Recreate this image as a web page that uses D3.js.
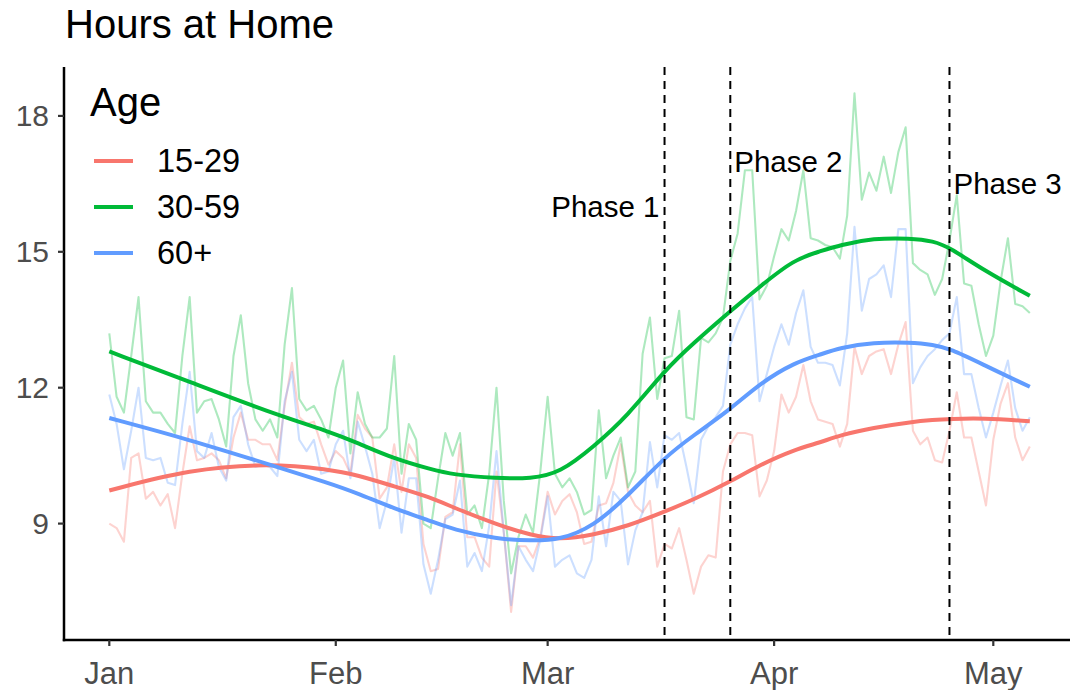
<!DOCTYPE html>
<html>
<head>
<meta charset="utf-8">
<script src="https://cdn.jsdelivr.net/npm/d3@7"></script>
<style>
  body { margin: 0; background: #fff; }
  svg { font-family: "Liberation Sans", Arial, sans-serif; }
</style>
</head>
<body>
<svg id="chart" width="1070" height="690"></svg>
<script>
// daily values, Jan 1 2020 onward (one per day)
const startDate = new Date(2020, 0, 1)
const ages = ['15-29', '30-59', '60+']
const colors = ['#F8766D', '#00BA38', '#619CFF']

const hours1529 = [
  9.0, 8.9, 8.6, 10.45, 10.55, 9.55, 9.7, 9.4, 9.65, 8.9,
  10.1, 11.15, 10.4, 10.45, 10.55, 10.4, 10.0, 10.9, 11.45, 10.85,
  10.85, 10.75, 10.75, 10.4, 11.6, 12.55, 11.35, 11.2, 11.25, 10.75,
  10.3, 10.6, 10.45, 10.1, 11.4, 11.1, 10.9, 9.55, 9.8, 10.75,
  9.7, 10.75, 10.45, 8.55, 7.95, 8.0, 9.15, 9.25, 10.75, 8.7,
  8.7, 8.25, 8.05, 10.15, 8.8, 7.05, 8.5, 8.5, 8.25, 8.7,
  9.7, 9.2, 9.5, 9.65, 9.25, 8.55, 8.6, 9.4, 9.45, 9.9,
  10.75, 9.7, 9.4, 9.25, 9.5, 8.05, 8.55, 8.45, 8.9, 8.2,
  7.45, 8.05, 8.3, 8.25, 10.15, 10.75, 11.0, 11.0, 10.95, 9.6,
  9.95, 10.6, 11.85, 11.45, 11.8, 12.5, 11.7, 11.3, 11.25, 11.2,
  10.7, 11.2, 12.9, 12.3, 12.7, 12.8, 12.85, 12.3, 12.95, 13.45,
  11.05, 10.75, 10.9, 10.4, 10.35, 11.05, 11.9, 10.9, 10.9, 10.15,
  9.4, 10.85, 11.65, 12.1, 10.9, 10.4, 10.7
]
const hours3059 = [
  13.2, 11.8, 11.45, 12.7, 14.0, 11.7, 11.45, 11.45, 11.2, 11.0,
  12.7, 14.0, 11.45, 11.7, 11.75, 11.3, 10.7, 12.7, 13.6, 12.1,
  11.3, 11.05, 11.3, 10.9, 12.95, 14.2, 11.75, 11.5, 11.6, 11.3,
  10.9, 12.0, 12.6, 10.55, 11.9, 11.2, 10.9, 10.9, 11.1, 12.7,
  10.1, 11.2, 10.85, 9.0, 8.9, 10.0, 11.0, 10.5, 11.0, 9.2,
  9.4, 8.9, 10.1, 12.0, 9.5, 7.9, 8.7, 9.2, 8.8, 10.15,
  11.8, 10.1, 9.8, 10.0, 9.7, 9.2, 9.3, 11.5, 10.0, 10.5,
  10.9, 9.8, 10.15, 12.75, 13.55, 11.75, 12.65, 12.7, 13.7, 11.35,
  11.3, 13.1, 13.0, 13.2, 13.55, 14.8, 15.4, 16.8, 16.8, 13.95,
  14.25, 14.9, 15.5, 15.25, 15.9, 16.8, 15.3, 15.25, 15.15, 15.1,
  14.85, 15.8, 18.5, 16.15, 16.75, 16.35, 17.1, 16.3, 17.2, 17.75,
  14.75, 14.6, 14.5, 14.05, 14.4, 15.25, 16.25, 14.3, 14.25, 13.4,
  12.7, 13.15, 14.35, 15.3, 13.85, 13.8, 13.65
]
const hours60 = [
  11.85, 11.2, 10.2, 11.05, 12.0, 10.45, 10.4, 10.45, 9.9, 9.85,
  11.2, 12.35, 10.6, 10.45, 11.0, 10.25, 9.95, 11.35, 11.6, 10.75,
  10.25, 10.3, 10.25, 10.05, 11.7, 12.35, 10.85, 10.6, 10.85, 10.1,
  10.15, 10.75, 11.05, 10.0, 11.25, 10.7, 10.1, 8.9, 9.5, 10.45,
  8.8, 10.0, 10.0, 8.1, 7.45, 8.2, 9.1, 9.2, 9.95, 8.05,
  8.35, 7.95, 8.95, 10.6, 8.8, 7.2, 8.5, 8.2, 7.95, 8.65,
  9.6, 8.05, 8.2, 8.3, 7.9, 7.8, 8.2, 9.6, 8.5, 9.7,
  9.5, 8.1, 8.85, 9.25, 10.8, 9.8, 10.95, 10.85, 11.0, 10.25,
  9.45, 10.85, 11.15, 11.35, 11.6, 12.95, 13.4, 13.75, 14.0, 11.7,
  12.3, 12.9, 13.4, 12.95, 13.65, 14.15, 12.9, 12.55, 12.55, 12.5,
  12.05, 13.2, 15.55, 13.7, 14.4, 14.5, 14.7, 14.0, 15.5, 15.5,
  12.1, 12.45, 12.7, 12.85, 13.05, 13.2, 14.0, 12.3, 12.3, 11.55,
  10.9, 11.45, 12.05, 12.6, 11.55, 11.05, 11.35
]

// smoothed trend, read at these day offsets from Jan 1
const smoothDays = [0, 11, 22, 30, 34, 39, 44, 47, 53, 57.7, 61.7, 66.3, 70.9, 76.1, 80, 85, 89.1, 93.7, 97.3, 100, 104.6, 109.6, 112.8, 115.1, 119.6, 126]
const smooth1529 = [9.73, 10.2, 10.33, 10.2, 10.07, 9.82, 9.58, 9.36, 8.98, 8.74, 8.64, 8.75, 8.94, 9.27, 9.53, 9.93, 10.3, 10.63, 10.79, 10.95, 11.12, 11.24, 11.29, 11.31, 11.33, 11.26]
const smooth3059 = [12.8, 12.13, 11.45, 11.04, 10.78, 10.43, 10.2, 10.08, 10.0, 9.99, 10.12, 10.7, 11.37, 12.4, 12.99, 13.69, 14.24, 14.83, 15.01, 15.15, 15.3, 15.3, 15.24, 15.09, 14.6, 14.03]
const smooth60 = [11.33, 10.85, 10.3, 9.9, 9.67, 9.33, 9.06, 8.87, 8.66, 8.62, 8.64, 8.94, 9.6, 10.48, 10.95, 11.52, 12.1, 12.55, 12.73, 12.88, 13.0, 13.0, 12.95, 12.86, 12.51, 12.02]

const phaseDates = ['2020-03-17', '2020-03-26', '2020-04-25']
const phaseLabels = ['Phase 1', 'Phase 2', 'Phase 3']
const phaseY = [16, 17, 16.5]

const yTicks = [9, 12, 15, 18]
const monthTicks = ['2020-01-01', '2020-02-01', '2020-03-01', '2020-04-01', '2020-05-01']
const monthLabels = ['Jan', 'Feb', 'Mar', 'Apr', 'May']

const rawSeries = [hours1529, hours3059, hours60]
const smoothSeries = [smooth1529, smooth3059, smooth60]
const parse = d3.timeParse('%Y-%m-%d')
const dayAt = (d) => new Date(+startDate + d * 864e5)

const svg = d3.select('#chart')
const panel = { left: 64, right: 1070, top: 67, bottom: 640 }

const x = d3.scaleTime()
  .domain([parse('2020-01-01'), parse('2020-05-01')])
  .range([109.3, 993.3])
const y = d3.scaleLinear()
  .domain([6.43, 19.08])
  .range([panel.bottom, panel.top])

svg.append('clipPath').attr('id', 'clip')
  .append('rect')
  .attr('x', panel.left).attr('y', panel.top)
  .attr('width', panel.right - panel.left).attr('height', panel.bottom - panel.top)

const plot = svg.append('g').attr('clip-path', 'url(#clip)')

const rawLine = d3.line()
  .x((v, i) => x(dayAt(i)))
  .y((v) => y(v))

rawSeries.forEach((vals, k) => {
  plot.append('path')
    .attr('d', rawLine(vals))
    .attr('fill', 'none')
    .attr('stroke', colors[k])
    .attr('stroke-opacity', 0.32)
    .attr('stroke-width', 2.1)
    .attr('stroke-linejoin', 'round')
})

const smoothLine = d3.line()
  .x((v, i) => x(dayAt(smoothDays[i])))
  .y((v) => y(v))
  .curve(d3.curveBasis)

smoothSeries.forEach((vals, k) => {
  plot.append('path')
    .attr('d', smoothLine(vals))
    .attr('fill', 'none')
    .attr('stroke', colors[k])
    .attr('stroke-width', 4)
})

// phase markers
phaseDates.forEach((d, i) => {
  const px = x(parse(d))
  svg.append('line')
    .attr('x1', px).attr('x2', px)
    .attr('y1', panel.top).attr('y2', panel.bottom)
    .attr('stroke', '#000')
    .attr('stroke-width', 2)
    .attr('stroke-dasharray', '8,6')
  svg.append('text')
    .attr('x', i === 0 ? px - 5 : px + 4)
    .attr('y', y(phaseY[i]))
    .attr('dy', '0.35em')
    .attr('text-anchor', i === 0 ? 'end' : 'start')
    .attr('font-size', 29.5)
    .attr('fill', '#000')
    .text(phaseLabels[i])
})

// axes
const yAxis = svg.append('g')
yAxis.append('line')
  .attr('x1', panel.left).attr('x2', panel.left)
  .attr('y1', panel.top).attr('y2', panel.bottom + 1.2)
  .attr('stroke', '#000').attr('stroke-width', 2.5)
yTicks.forEach((t) => {
  yAxis.append('line')
    .attr('x1', panel.left - 6).attr('x2', panel.left)
    .attr('y1', y(t)).attr('y2', y(t))
    .attr('stroke', '#333').attr('stroke-width', 2.2)
  yAxis.append('text')
    .attr('x', panel.left - 15)
    .attr('y', y(t))
    .attr('dy', '0.35em')
    .attr('text-anchor', 'end')
    .attr('font-size', 30)
    .attr('fill', '#4D4D4D')
    .text(t)
})

const xAxis = svg.append('g')
xAxis.append('line')
  .attr('x1', panel.left - 1.2).attr('x2', panel.right)
  .attr('y1', panel.bottom).attr('y2', panel.bottom)
  .attr('stroke', '#000').attr('stroke-width', 2.5)
monthTicks.forEach((m, i) => {
  const px = x(parse(m))
  xAxis.append('line')
    .attr('x1', px).attr('x2', px)
    .attr('y1', panel.bottom).attr('y2', panel.bottom + 6)
    .attr('stroke', '#333').attr('stroke-width', 2.2)
  xAxis.append('text')
    .attr('x', px)
    .attr('y', 684)
    .attr('text-anchor', 'middle')
    .attr('font-size', 31)
    .attr('fill', '#4D4D4D')
    .text(monthLabels[i])
})

// title
svg.append('text')
  .attr('x', 65).attr('y', 38)
  .attr('font-size', 40)
  .attr('fill', '#000')
  .text('Hours at Home')

// legend
const legend = svg.append('g')
legend.append('text')
  .attr('x', 90).attr('y', 116)
  .attr('font-size', 40)
  .attr('fill', '#000')
  .text('Age')
ages.forEach((a, i) => {
  const ly = 161 + i * 46
  legend.append('line')
    .attr('x1', 94).attr('x2', 133)
    .attr('y1', ly).attr('y2', ly)
    .attr('stroke', colors[i])
    .attr('stroke-width', 4)
  legend.append('text')
    .attr('x', 157).attr('y', ly)
    .attr('dy', '0.35em')
    .attr('font-size', 32.5)
    .attr('fill', '#000')
    .text(a)
})
</script>
</body>
</html>
